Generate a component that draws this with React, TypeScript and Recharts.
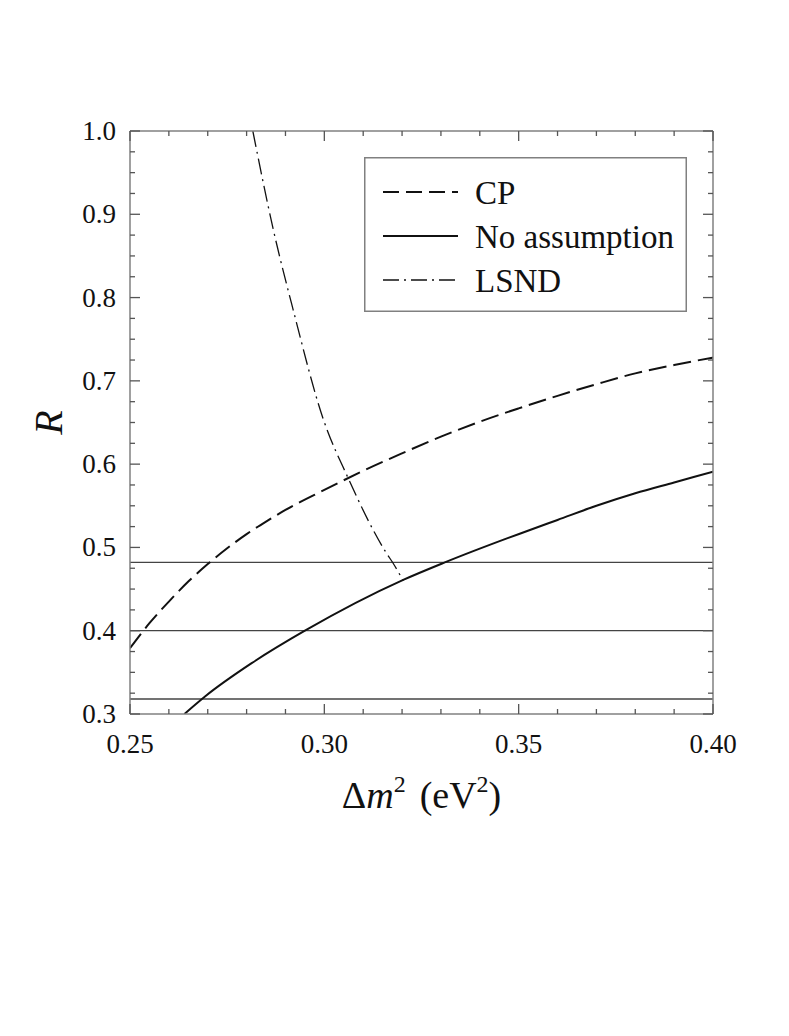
import React from 'react';
import { LineChart, Line, XAxis, YAxis, ReferenceLine, Legend } from 'recharts';

// ---- data ----
const cpX = [0.25, 0.255, 0.26, 0.265, 0.27, 0.275, 0.28, 0.285, 0.29, 0.30, 0.31, 0.32, 0.33, 0.34, 0.35, 0.36, 0.37, 0.38, 0.39, 0.40];
const cpR = [0.379, 0.409, 0.435, 0.459, 0.480, 0.499, 0.516, 0.531, 0.545, 0.569, 0.592, 0.613, 0.633, 0.651, 0.667, 0.682, 0.696, 0.709, 0.719, 0.728];

const noAssX = [0.264, 0.2693, 0.2813, 0.295, 0.3203, 0.331, 0.3529, 0.36, 0.37, 0.38, 0.39, 0.40];
const noAssR = [0.30, 0.321, 0.361, 0.40, 0.461, 0.482, 0.521, 0.533, 0.550, 0.565, 0.578, 0.591];

const lsndX = [0.2816, 0.2869, 0.292, 0.2998, 0.306, 0.316, 0.3177, 0.3203];
const lsndR = [1.0, 0.881, 0.785, 0.653, 0.5845, 0.493, 0.481, 0.460];

const hLines = [0.482, 0.40, 0.318];

const xMajor = [0.25, 0.30, 0.35, 0.40];
const xMinor = [0.26, 0.27, 0.28, 0.29, 0.31, 0.32, 0.33, 0.34, 0.36, 0.37, 0.38, 0.39];
const yMajor = [0.3, 0.4, 0.5, 0.6, 0.7, 0.8, 0.9, 1.0];
const yMinor = [0.325, 0.35, 0.375, 0.425, 0.45, 0.475, 0.525, 0.55, 0.575, 0.625, 0.65, 0.675, 0.725, 0.75, 0.775, 0.825, 0.85, 0.875, 0.925, 0.95, 0.975];

const legendItems = [
  { label: 'CP', dash: '16 7' },
  { label: 'No assumption', dash: '' },
  { label: 'LSND', dash: '16 5 2 5' },
];

const toPts = (xs: number[], rs: number[]) => xs.map((x, i) => ({ x, r: rs[i] }));
const cpData = toPts(cpX, cpR);
const noAssData = toPts(noAssX, noAssR);
const lsndData = toPts(lsndX, lsndR);

const xTicks = [...xMajor, ...xMinor].sort((a, b) => a - b);
const yTicks = [...yMajor, ...yMinor].sort((a, b) => a - b);
const isIn = (v: number, arr: number[]) => arr.some((m) => Math.abs(m - v) < 1e-9);

const FONT = '"Liberation Serif", "Times New Roman", serif';
const FRAME = '#808080';
const TICKC = '#555';
const MAJ = 10;
const MIN = 5;

const BottomTick = (p: any) => {
  const v = p.payload.value;
  const maj = isIn(v, xMajor);
  return (
    <g>
      <line x1={p.x} x2={p.x} y1={p.y} y2={p.y - (maj ? MAJ : MIN)} stroke={TICKC} strokeWidth={1.3} />
      {maj && (
        <text x={p.x} y={p.y + 39} textAnchor="middle" fontFamily={FONT} fontSize={27} fill="#111">
          {v.toFixed(2)}
        </text>
      )}
    </g>
  );
};
const TopTick = (p: any) => {
  const v = p.payload.value;
  const maj = isIn(v, xMajor);
  return <line x1={p.x} x2={p.x} y1={p.y} y2={p.y + (maj ? MAJ : MIN)} stroke={TICKC} strokeWidth={1.3} />;
};
const LeftTick = (p: any) => {
  const v = p.payload.value;
  const maj = isIn(v, yMajor);
  return (
    <g>
      <line x1={p.x} x2={p.x + (maj ? MAJ : MIN)} y1={p.y} y2={p.y} stroke={TICKC} strokeWidth={1.3} />
      {maj && (
        <text x={p.x - 14} y={p.y + 9} textAnchor="end" fontFamily={FONT} fontSize={27} fill="#111">
          {v.toFixed(1)}
        </text>
      )}
    </g>
  );
};
const RightTick = (p: any) => {
  const v = p.payload.value;
  const maj = isIn(v, yMajor);
  return <line x1={p.x} x2={p.x - (maj ? MAJ : MIN)} y1={p.y} y2={p.y} stroke={TICKC} strokeWidth={1.3} />;
};

const XTitle = (p: any) => {
  const vb = p.viewBox;
  const cx = vb.x + vb.width / 2;
  return (
    <text x={cx} y={vb.y + 94} textAnchor="middle" fontFamily={FONT} fontSize={38} fill="#111">
      <tspan>Δ</tspan>
      <tspan fontStyle="italic">m</tspan>
      <tspan fontSize={24} dy={-16}>2</tspan>
      <tspan dy={16} dx={14}>(eV</tspan>
      <tspan fontSize={24} dy={-16}>2</tspan>
      <tspan dy={16}>)</tspan>
    </text>
  );
};
const YTitle = (p: any) => {
  const vb = p.viewBox;
  const cy = vb.y + vb.height / 2;
  const x = 62;
  return (
    <text x={x} y={cy} transform={`rotate(-90 ${x} ${cy})`} textAnchor="middle" fontFamily={FONT} fontSize={40} fontStyle="italic" fill="#111">
      R
    </text>
  );
};

const LegendBox = () => (
  <svg width={323} height={155} style={{ display: 'block' }}>
    <rect x={0.75} y={0.75} width={321.5} height={153.5} fill="#fff" stroke={FRAME} strokeWidth={1.5} />
    {legendItems.map((it, i) => {
      const ly = 35 + i * 44;
      return (
        <g key={it.label}>
          <line x1={19} x2={94} y1={ly} y2={ly} stroke="#111" strokeWidth={it.dash === '16 5 2 5' ? 1.3 : 2} strokeDasharray={it.dash || undefined} />
          <text x={111} y={ly + 12} fontFamily={FONT} fontSize={33} fill="#111">
            {it.label}
          </text>
        </g>
      );
    })}
  </svg>
);

export default function App() {
  return (
    <div style={{ position: 'absolute', left: 0, top: 0, width: 789, height: 1036, background: '#fff' }}>
      <LineChart width={789} height={1036} margin={{ top: 0, right: 0, bottom: 0, left: 0 }}>
        <XAxis
          xAxisId="b"
          type="number"
          dataKey="x"
          orientation="bottom"
          domain={[0.25, 0.4]}
          ticks={xTicks}
          interval={0}
          allowDataOverflow
          height={322}
          tickSize={0}
          tickMargin={0}
          tickLine={false}
          axisLine={{ stroke: FRAME, strokeWidth: 1.5 }}
          tick={<BottomTick />}
          label={<XTitle />}
        />
        <XAxis
          xAxisId="t"
          type="number"
          dataKey="x"
          orientation="top"
          domain={[0.25, 0.4]}
          ticks={xTicks}
          interval={0}
          allowDataOverflow
          height={131}
          tickSize={0}
          tickMargin={0}
          tickLine={false}
          axisLine={{ stroke: FRAME, strokeWidth: 1.5 }}
          tick={<TopTick />}
        />
        <YAxis
          yAxisId="l"
          type="number"
          orientation="left"
          domain={[0.3, 1.0]}
          ticks={yTicks}
          interval={0}
          allowDataOverflow
          width={130}
          tickSize={0}
          tickMargin={0}
          tickLine={false}
          axisLine={{ stroke: FRAME, strokeWidth: 1.5 }}
          tick={<LeftTick />}
          label={<YTitle />}
        />
        <YAxis
          yAxisId="r"
          type="number"
          orientation="right"
          domain={[0.3, 1.0]}
          ticks={yTicks}
          interval={0}
          allowDataOverflow
          width={76}
          tickSize={0}
          tickMargin={0}
          tickLine={false}
          axisLine={{ stroke: FRAME, strokeWidth: 1.5 }}
          tick={<RightTick />}
        />
        {hLines.map((h) => (
          <ReferenceLine key={h} xAxisId="b" yAxisId="l" y={h} stroke="#444" strokeWidth={1.3} />
        ))}
        <Line xAxisId="b" yAxisId="l" data={cpData} dataKey="r" type="monotone" stroke="#111" strokeWidth={2} strokeDasharray="18 7" dot={false} isAnimationActive={false} />
        <Line xAxisId="b" yAxisId="l" data={noAssData} dataKey="r" type="monotone" stroke="#111" strokeWidth={2} dot={false} isAnimationActive={false} />
        <Line xAxisId="b" yAxisId="l" data={lsndData} dataKey="r" type="monotone" stroke="#111" strokeWidth={1.3} strokeDasharray="16 5 2 5" dot={false} isAnimationActive={false} />
        <Legend
          layout="horizontal"
          verticalAlign="middle"
          align="center"
          content={<LegendBox />}
          wrapperStyle={{ position: 'absolute', left: 364, top: 157, width: 323, height: 155 }}
        />
      </LineChart>
    </div>
  );
}
